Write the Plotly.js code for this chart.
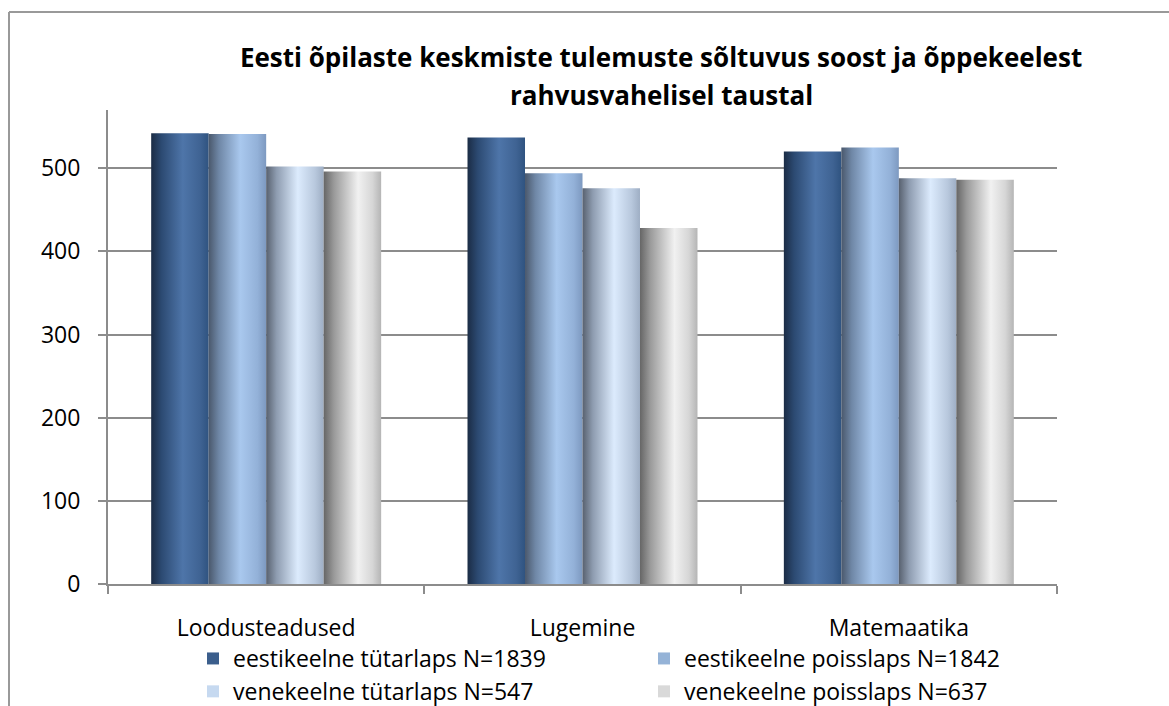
<!DOCTYPE html>
<html>
<head>
<meta charset="utf-8">
<script src="https://cdn.plot.ly/plotly-3.0.1.min.js"></script>
<style>
  html, body { margin: 0; padding: 0; background: #ffffff; }
  #chart { width: 1169px; height: 706px; }
</style>
</head>
<body>
<div id="chart"></div>
<script>
// ---- data ----
const categories = ["Loodusteadused", "Lugemine", "Matemaatika"];
const seriesNames = [
  "eestikeelne tütarlaps N=1839",
  "eestikeelne poisslaps N=1842",
  "venekeelne tütarlaps N=547",
  "venekeelne poisslaps N=637"
];
const estGirls = [542, 537, 520];
const estBoys  = [541, 494, 525];
const rusGirls = [502, 476, 488];
const rusBoys  = [496, 428, 486];
const yTickVals = [0, 100, 200, 300, 400, 500];
const titleLine1 = "Eesti õpilaste keskmiste tulemuste sõltuvus soost ja õppekeelest";
const titleLine2 = "rahvusvahelisel taustal";

// ---- styles ----
const legendColors = ["#3b5e8c", "#95b3d7", "#c6d9f0", "#d9d9d9"];
const gradients = [
  [[0, "#1b2c45"], [0.18, "#2c4a72"], [0.55, "#4e75a9"], [0.85, "#3f6393"], [1, "#2f5380"]],
  [[0, "#4a586c"], [0.18, "#6f87a6"], [0.55, "#a9c8ee"], [0.85, "#93b1d8"], [1, "#7d99c0"]],
  [[0, "#58616f"], [0.18, "#8e9cb0"], [0.55, "#dcebfd"], [0.85, "#b8c8dd"], [1, "#9eaec4"]],
  [[0, "#666666"], [0.18, "#9a9a9a"], [0.6, "#f1f1f1"], [0.85, "#d6d6d6"], [1, "#b5b5b5"]]
];
const seriesValues = [estGirls, estBoys, rusGirls, rusBoys];

const FONT = "Open Sans, Noto Sans, sans-serif";

const traces = seriesValues.map((vals, i) => ({
  type: "bar",
  name: seriesNames[i],
  x: categories,
  y: vals,
  marker: { color: legendColors[i], line: { width: 0 } },
  hoverinfo: "x+y+name"
}));

const layout = {
  width: 1169,
  height: 706,
  margin: { l: 108, r: 112, t: 110, b: 122, autoexpand: false },
  paper_bgcolor: "#ffffff",
  plot_bgcolor: "#ffffff",
  barmode: "group",
  bargap: 0.273,
  bargroupgap: 0,
  font: { family: FONT, size: 22, color: "#000000" },
  title: {
    text: titleLine1,
    font: { family: FONT, size: 26, color: "#000000", weight: "bold" },
    x: 0.5655,
    xanchor: "center",
    y: 1 - 58 / 706,
    yanchor: "middle"
  },
  annotations: [{
    text: titleLine2,
    xref: "paper", yref: "paper",
    x: (661 - 108) / 949,
    y: (584 - 95) / 474,
    xanchor: "center", yanchor: "middle",
    showarrow: false,
    font: { family: FONT, size: 26, color: "#000000", weight: "bold" }
  }],
  xaxis: {
    type: "category",
    showline: true,
    linecolor: "#8c8c8c",
    linewidth: 2,
    ticks: "outside",
    tickson: "boundaries",
    ticklen: 8,
    tickwidth: 2,
    tickcolor: "#8c8c8c",
    ticklabelstandoff: 22,
    tickfont: { family: FONT, size: 23, color: "#000000" },
    showgrid: false,
    zeroline: false
  },
  yaxis: {
    range: [0, 570],
    tickvals: yTickVals,
    showline: true,
    linecolor: "#8c8c8c",
    linewidth: 2,
    ticks: "outside",
    ticklen: 8,
    tickwidth: 2,
    tickcolor: "#8c8c8c",
    ticklabelstandoff: 13,
    tickfont: { family: FONT, size: 23, color: "#000000" },
    showgrid: true,
    gridcolor: "#8c8c8c",
    gridwidth: 2,
    zeroline: false
  },
  legend: {
    orientation: "h",
    xref: "container",
    x: 193 / 1169,
    xanchor: "left",
    yref: "container",
    y: 1 - 637 / 706,
    yanchor: "top",
    entrywidth: 406,
    entrywidthmode: "pixels",
    font: { family: FONT, size: 23, color: "#000000" },
    bgcolor: "rgba(0,0,0,0)",
    traceorder: "normal"
  },
  shapes: [
    { type: "line", xref: "paper", yref: "paper",
      x0: (9 - 108) / 949, x1: (1169 - 108) / 949,
      y0: (584 - 12) / 474, y1: (584 - 12) / 474,
      line: { color: "#999999", width: 2 } },
    { type: "line", xref: "paper", yref: "paper",
      x0: (9 - 108) / 949, x1: (9 - 108) / 949,
      y0: (584 - 12) / 474, y1: (584 - 720) / 474,
      line: { color: "#999999", width: 2 } }
  ],
  showlegend: true,
  hovermode: false
};

Plotly.newPlot("chart", traces, layout, { displayModeBar: false, staticPlot: true }).then(gd => {
  const svg = gd.querySelector("svg.main-svg");
  const ns = "http://www.w3.org/2000/svg";
  let defs = svg.querySelector("defs");
  if (!defs) { defs = document.createElementNS(ns, "defs"); svg.insertBefore(defs, svg.firstChild); }
  gradients.forEach((stops, i) => {
    const lg = document.createElementNS(ns, "linearGradient");
    lg.setAttribute("id", "barGrad" + i);
    lg.setAttribute("x1", "0"); lg.setAttribute("y1", "0");
    lg.setAttribute("x2", "1"); lg.setAttribute("y2", "0");
    stops.forEach(([off, col]) => {
      const s = document.createElementNS(ns, "stop");
      s.setAttribute("offset", off);
      s.setAttribute("stop-color", col);
      lg.appendChild(s);
    });
    defs.appendChild(lg);
  });
  const barTraces = gd.querySelectorAll(".barlayer .trace.bars");
  barTraces.forEach((t, i) => {
    t.querySelectorAll(".point path").forEach(p => {
      p.style.fill = "url(#barGrad" + i + ")";
    });
  });
});
</script>
</body>
</html>
